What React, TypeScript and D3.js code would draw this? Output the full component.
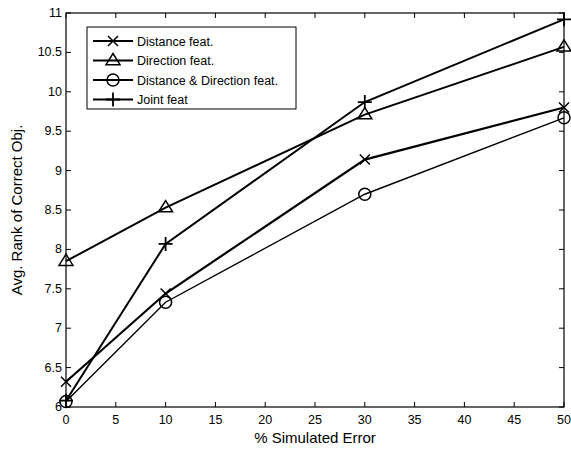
import React, { useEffect, useRef } from 'react';
import * as d3 from 'd3';

const xValues = [0, 10, 30, 50];
const distanceFeat = [6.32, 7.44, 9.14, 9.8];
const directionFeat = [7.85, 8.53, 9.71, 10.57];
const distDirFeat = [6.07, 7.33, 8.7, 9.67];
const jointFeat = [6.08, 8.07, 9.87, 10.92];

const xTicks = [0, 5, 10, 15, 20, 25, 30, 35, 40, 45, 50];
const yTicks = [6, 6.5, 7, 7.5, 8, 8.5, 9, 9.5, 10, 10.5, 11];

const seriesNames = ['Distance feat.', 'Direction feat.', 'Distance & Direction feat.', 'Joint feat'];
const seriesValues = [distanceFeat, directionFeat, distDirFeat, jointFeat];
const seriesMarkers = ['x', 'triangle', 'circle', 'plus'];
const seriesWidths = [2.2, 2, 1.4, 2];

function drawMarker(g: any, type: string, cx: number, cy: number) {
    const s = 5;
    if (type === 'x') {
        g.append('path')
            .attr('d', `M${cx - s},${cy - s}L${cx + s},${cy + s}M${cx - s},${cy + s}L${cx + s},${cy - s}`)
            .attr('stroke', '#000').attr('stroke-width', 1.5).attr('fill', 'none');
    } else if (type === 'plus') {
        const p = 7;
        g.append('path')
            .attr('d', `M${cx - p},${cy}L${cx + p},${cy}M${cx},${cy - p}L${cx},${cy + p}`)
            .attr('stroke', '#000').attr('stroke-width', 1.8).attr('fill', 'none');
    } else if (type === 'circle') {
        g.append('circle')
            .attr('cx', cx).attr('cy', cy).attr('r', 6)
            .attr('stroke', '#000').attr('stroke-width', 1.5).attr('fill', 'none');
    } else {
        const t = 7;
        g.append('path')
            .attr('d', `M${cx},${cy - t}L${cx + t},${cy + t * 0.6}L${cx - t},${cy + t * 0.6}Z`)
            .attr('stroke', '#000').attr('stroke-width', 1.5).attr('fill', 'none');
    }
}

function Chart() {
    const ref = useRef<SVGSVGElement>(null);

    useEffect(() => {
        const svg = d3.select(ref.current);
        svg.selectAll('*').remove();

        const left = 66, right = 564, top = 13, bottom = 407;
        const font = 'Liberation Sans, Arial, sans-serif';

        const x = d3.scaleLinear().domain([0, 50]).range([left, right]);
        const y = d3.scaleLinear().domain([6, 11]).range([bottom, top]);

        svg.append('rect')
            .attr('x', 0).attr('y', 0).attr('width', 571).attr('height', 449).attr('fill', '#fff');

        // ticks point inward on all four sides
        const tickG = svg.append('g').attr('stroke', '#000').attr('stroke-width', 1);
        xTicks.forEach(t => {
            tickG.append('line').attr('x1', x(t)).attr('x2', x(t)).attr('y1', bottom).attr('y2', bottom - 5);
            tickG.append('line').attr('x1', x(t)).attr('x2', x(t)).attr('y1', top).attr('y2', top + 5);
        });
        yTicks.forEach(t => {
            tickG.append('line').attr('x1', left).attr('x2', left + 5).attr('y1', y(t)).attr('y2', y(t));
            tickG.append('line').attr('x1', right).attr('x2', right - 5).attr('y1', y(t)).attr('y2', y(t));
        });

        svg.append('rect')
            .attr('x', left).attr('y', top).attr('width', right - left).attr('height', bottom - top)
            .attr('fill', 'none').attr('stroke', '#000').attr('stroke-width', 1.2);

        svg.selectAll('.xt').data(xTicks).enter().append('text')
            .attr('x', d => x(d)).attr('y', bottom + 17)
            .attr('text-anchor', 'middle').attr('font-family', font).attr('font-size', 12.5)
            .text(d => String(d));

        svg.selectAll('.yt').data(yTicks).enter().append('text')
            .attr('x', left - 4).attr('y', d => y(d) + 4)
            .attr('text-anchor', 'end').attr('font-family', font).attr('font-size', 12.5)
            .text(d => String(d));

        svg.append('text')
            .attr('x', (left + right) / 2).attr('y', 443)
            .attr('text-anchor', 'middle').attr('font-family', font).attr('font-size', 15)
            .text('% Simulated Error');

        svg.append('text')
            .attr('transform', `translate(22,${(top + bottom) / 2}) rotate(-90)`)
            .attr('text-anchor', 'middle').attr('font-family', font).attr('font-size', 15)
            .text('Avg. Rank of Correct Obj.');

        const line = d3.line<number>().x((d, i) => x(xValues[i])).y(d => y(d));

        seriesValues.forEach((vals, si) => {
            svg.append('path')
                .datum(vals)
                .attr('d', line)
                .attr('fill', 'none').attr('stroke', '#000')
                .attr('stroke-width', seriesWidths[si]);
            const mg = svg.append('g');
            vals.forEach((v, i) => drawMarker(mg, seriesMarkers[si], x(xValues[i]), y(v)));
        });

        // legend
        const lg = svg.append('g');
        lg.append('rect')
            .attr('x', 87).attr('y', 27).attr('width', 209).attr('height', 82)
            .attr('fill', '#fff').attr('stroke', '#000').attr('stroke-width', 1);
        seriesNames.forEach((name, i) => {
            const ly = 41 + i * 19.5;
            lg.append('line').attr('x1', 93).attr('x2', 133).attr('y1', ly).attr('y2', ly)
                .attr('stroke', '#000').attr('stroke-width', 2);
            drawMarker(lg, seriesMarkers[i], 113, ly);
            lg.append('text')
                .attr('x', 137).attr('y', ly + 4.5)
                .attr('font-family', font).attr('font-size', 12.5)
                .text(name);
        });
    }, []);

    return (
        <svg ref={ref} width={571} height={449}
            style={{ position: 'fixed', left: 0, top: 0, display: 'block' }}></svg>
    );
}

export default function App() {
    return <Chart />;
}
